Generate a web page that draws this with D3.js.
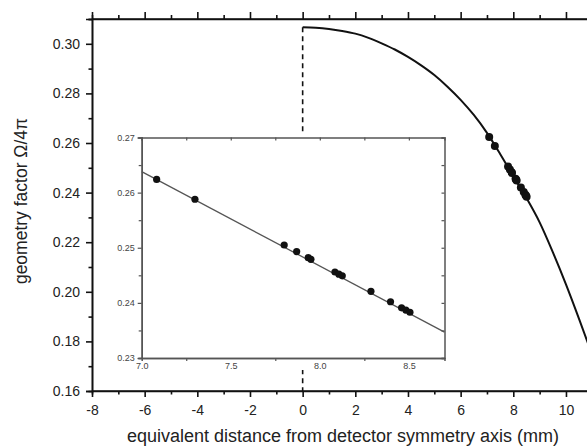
<!DOCTYPE html>
<html><head><meta charset="utf-8">
<script src="https://cdn.jsdelivr.net/npm/d3@7"></script>
<style>body{margin:0;background:#fff}svg{display:block}</style>
</head><body>
<svg id="chart" width="587" height="448"></svg>
<script>
// ---- data ----
const curveX = [0, 0.5, 1, 1.5, 2, 2.5, 3, 3.5, 4, 4.5, 5, 5.5, 6, 6.5, 7, 7.5, 8, 8.5, 9, 9.5, 10, 10.5, 11];
const curveY = [0.3067, 0.3065, 0.3060, 0.3052, 0.3041, 0.3024, 0.3002, 0.2977, 0.2947, 0.2913, 0.2874, 0.2827, 0.2774, 0.2713, 0.2641, 0.2556, 0.2466, 0.2378, 0.2280, 0.2160, 0.2030, 0.1890, 0.1745];
const pointsX = [7.084, 7.299, 7.80, 7.87, 7.935, 7.95, 8.085, 8.107, 8.126, 8.287, 8.397, 8.459, 8.483, 8.506];
const pointsY = [0.2624, 0.2588, 0.2505, 0.2493, 0.2482, 0.2479, 0.2456, 0.2452, 0.2449, 0.2421, 0.2402, 0.2391, 0.2387, 0.2383];
const fitX = [7.0, 8.7];
const fitY = [0.2638, 0.2347];
const xTicks = [-8, -6, -4, -2, 0, 2, 4, 6, 8, 10];
const xMinor = [-7, -5, -3, -1, 1, 3, 5, 7, 9, 11];
const yTicks = [0.16, 0.18, 0.20, 0.22, 0.24, 0.26, 0.28, 0.30];
const yMinor = [0.17, 0.19, 0.21, 0.23, 0.25, 0.27, 0.29, 0.31];
const insetXTicks = [7.0, 7.5, 8.0, 8.5];
const insetXMinor = [7.25, 7.75, 8.25];
const insetYTicks = [0.23, 0.24, 0.25, 0.26, 0.27];
const insetYMinor = [0.235, 0.245, 0.255, 0.265];
const xTitle = "equivalent distance from detector symmetry axis (mm)";
const yTitle = "geometry factor  \u03A9/4\u03C0";

// ---- scales ----
const svg = d3.select("#chart");
const font = "'Liberation Sans', Arial, sans-serif";
const x = d3.scaleLinear().domain([-8, 11]).range([92, 592.3]);
const y = d3.scaleLinear().domain([0.16, 0.31]).range([391, 19]);

const styleAxis = (g, w) => {
  g.selectAll("path.domain").attr("stroke", "#111").attr("stroke-width", w);
  g.selectAll(".tick line").attr("stroke", "#111").attr("stroke-width", w);
};

// dashed line at x=0
svg.append("line")
  .attr("x1", x(0)).attr("x2", x(0))
  .attr("y1", y(curveY[0])).attr("y2", y(0.16))
  .attr("stroke", "#111").attr("stroke-width", 1.6)
  .attr("stroke-dasharray", "5,4");

// main curve
const pts = curveX.map((d, i) => [d, curveY[i]]);
svg.append("path").datum(pts)
  .attr("fill", "none").attr("stroke", "#111").attr("stroke-width", 2)
  .attr("d", d3.line().x(d => x(d[0])).y(d => y(d[1])).curve(d3.curveMonotoneX));

// main points
svg.append("g").selectAll("circle").data(pointsX).join("circle")
  .attr("cx", d => x(d)).attr("cy", (d, i) => y(pointsY[i]))
  .attr("r", 4).attr("fill", "#111");

// main axes
const intFmt = d => String(d);
const gB = svg.append("g").attr("transform", `translate(0,${y(0.16)})`)
  .call(d3.axisBottom(x).tickValues(xTicks).tickSize(6).tickPadding(8).tickFormat(intFmt));
styleAxis(gB, 1.6);
const gBm = svg.append("g").attr("transform", `translate(0,${y(0.16)})`)
  .call(d3.axisBottom(x).tickValues(xMinor).tickSize(3.5).tickFormat(""));
styleAxis(gBm, 1.6);
const gT = svg.append("g").attr("transform", `translate(0,${y(0.31)})`)
  .call(d3.axisTop(x).tickValues(xTicks).tickSize(7).tickFormat(""));
styleAxis(gT, 1.6);
const gTm = svg.append("g").attr("transform", `translate(0,${y(0.31)})`)
  .call(d3.axisTop(x).tickValues(xMinor).tickSize(4).tickFormat(""));
styleAxis(gTm, 1.6);
const gL = svg.append("g").attr("transform", `translate(${x(-8)},0)`)
  .call(d3.axisLeft(y).tickValues(yTicks).tickSize(6).tickPadding(6).tickFormat(d3.format(".2f")));
styleAxis(gL, 1.6);
const gLm = svg.append("g").attr("transform", `translate(${x(-8)},0)`)
  .call(d3.axisLeft(y).tickValues(yMinor).tickSize(3.5).tickFormat(""));
styleAxis(gLm, 1.6);
[gB, gL].forEach(g => g.selectAll("text").attr("font-family", font).attr("font-size", 14).attr("fill", "#222"));
gB.selectAll("path.domain").attr("d", `M${x(-8)},0H587`);
gT.selectAll("path.domain").attr("d", `M${x(-8)},0H587`);

// titles
svg.append("text").attr("x", 343).attr("y", 442).attr("text-anchor", "middle")
  .attr("font-family", font).attr("font-size", 18).attr("fill", "#222").text(xTitle);
svg.append("text").attr("transform", "translate(27,201) rotate(-90)").attr("text-anchor", "middle")
  .attr("font-family", font).attr("font-size", 17.5).attr("fill", "#222").text(yTitle);

// ---- inset ----
const ix = d3.scaleLinear().domain([7.0, 8.7]).range([141.7, 444.5]);
const iy = d3.scaleLinear().domain([0.23, 0.27]).range([358, 137.5]);
const inset = svg.append("g");
inset.append("rect").attr("x", 104).attr("y", 133).attr("width", 346).attr("height", 237).attr("fill", "#fff");

const fitPts = fitX.map((d, i) => [d, fitY[i]]);
inset.append("path").datum(fitPts)
  .attr("fill", "none").attr("stroke", "#555").attr("stroke-width", 1.3)
  .attr("d", d3.line().x(d => ix(d[0])).y(d => iy(d[1])));
inset.append("g").selectAll("circle").data(pointsX).join("circle")
  .attr("cx", d => ix(d)).attr("cy", (d, i) => iy(pointsY[i]))
  .attr("r", 3.6).attr("fill", "#111");

const iStyle = g => {
  g.selectAll("path.domain").attr("stroke", "#555").attr("stroke-width", 1.5);
  g.selectAll(".tick line").attr("stroke", "#555").attr("stroke-width", 1.2);
  g.selectAll("text").attr("font-family", font).attr("font-size", 9).attr("fill", "#444");
};
const allX = insetXTicks.concat(insetXMinor);
const allY = insetYTicks.concat(insetYMinor);
iStyle(inset.append("g").attr("transform", `translate(0,${iy(0.23)})`)
  .call(d3.axisBottom(ix).tickValues(insetXTicks).tickSize(0).tickPadding(5).tickFormat(d3.format(".1f"))));
iStyle(inset.append("g").attr("transform", `translate(0,${iy(0.23)})`)
  .call(d3.axisBottom(ix).tickValues(insetXMinor).tickSize(3).tickFormat("")));
iStyle(inset.append("g").attr("transform", `translate(0,${iy(0.27)})`)
  .call(d3.axisBottom(ix).tickValues(allX).tickSize(3).tickFormat("")));
iStyle(inset.append("g").attr("transform", `translate(${ix(7.0)},0)`)
  .call(d3.axisLeft(iy).tickValues(insetYTicks).tickSize(4).tickPadding(3).tickFormat(d3.format(".2f"))));
iStyle(inset.append("g").attr("transform", `translate(${ix(7.0)},0)`)
  .call(d3.axisLeft(iy).tickValues(insetYMinor).tickSize(3).tickFormat("")));
iStyle(inset.append("g").attr("transform", `translate(${ix(8.7)},0)`)
  .call(d3.axisLeft(iy).tickValues(allY).tickSize(3).tickFormat("")));
</script>
</body></html>
